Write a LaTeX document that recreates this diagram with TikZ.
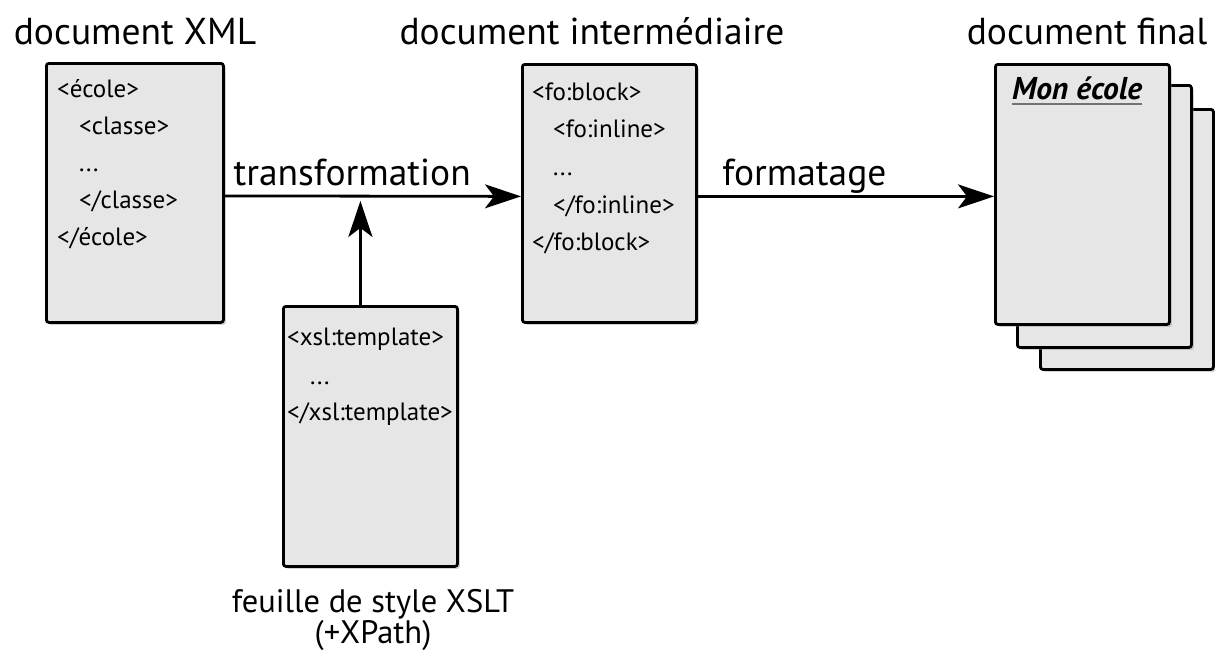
\documentclass[tikz,border=0pt]{standalone}
\usepackage{fontspec}
\setmainfont{PT Sans}
\usetikzlibrary{arrows.meta,shadows}
\begin{document}
\begin{tikzpicture}[x=1pt,y=-1pt,
  doc/.style={draw=black, line width=2.8pt, fill=docfill, rounded corners=2.5pt,
    anchor=north west, inner sep=0pt,
    drop shadow={shadow xshift=2.5pt, shadow yshift=-2.5pt, opacity=0.35}},
  code/.style={anchor=base west, inner sep=0pt, font=\fontsize{25}{25}\selectfont},
  title/.style={anchor=base, inner sep=0pt, font=\fontsize{37.5}{37.5}\selectfont},
  caption/.style={anchor=base, inner sep=0pt, font=\fontsize{32.5}{32.5}\selectfont},
  arr/.style={line width=2.8pt, -{Stealth[length=36pt,width=24pt,inset=9pt]}}]
\definecolor{docfill}{HTML}{E6E6E6}
\useasboundingbox (0,0) rectangle (1215,654);

% source XML document
\node[doc, minimum width=177pt, minimum height=259pt] (xml) at (45,62) {};
\node[code] (x1) at (57,97) {<école>};
\node[code] (x2) at (79,134) {<classe>};
\node[code] (x3) at (79,171) {...};
\node[code] (x4) at (79,208) {</classe>};
\node[code] (x5) at (57,245) {</école>};
\node[title] (txml) at (135,44) {document XML};

% intermediate document
\node[doc, minimum width=174pt, minimum height=258pt] (inter) at (521,63) {};
\node[code] (i1) at (532,100) {<fo:block>};
\node[code] (i2) at (553,137) {<fo:inline>};
\node[code] (i3) at (553,175) {...};
\node[code] (i4) at (553,213) {</fo:inline>};
\node[code] (i5) at (532,250) {</fo:block>};
\node[title] (tinter) at (592,44) {document intermédiaire};

% XSLT stylesheet
\node[doc, minimum width=174pt, minimum height=260pt] (xslt) at (282,305) {};
\node[code] (s1) at (287,345) {<xsl:template>};
\node[code] (s2) at (310,384) {...};
\node[code] (s3) at (287,420) {</xsl:template>};
\node[caption] (txslt1) at (373,612) {feuille de style XSLT};
\node[caption] (txslt2) at (373,643) {(+XPath)};

% final document: three stacked pages
\node[doc, minimum width=173pt, minimum height=260pt] (page3) at (1039,108) {};
\node[doc, minimum width=174pt, minimum height=262pt] (page2) at (1016,84) {};
\node[doc, minimum width=174pt, minimum height=260pt] (page1) at (994,63) {};
\node[anchor=base west, inner sep=0pt, font=\fontsize{31.5}{31.5}\selectfont\bfseries\itshape]
  (mon) at (1012,99) {Mon école};
\draw[line width=2pt, black!55] ([yshift=-4.5pt]mon.base west) -- ([yshift=-4.5pt]mon.base east);
\node[title] (tfinal) at (1087,44) {document final};

% connectors
\draw[arr] ([yshift=-3pt]xml.east) -- ([yshift=-3pt]inter.west)
  node[title, pos=0.43, yshift=11pt] (ltrans) {transformation};
\draw[arr] ([xshift=-10pt]xslt.north) -- ([xshift=-10pt,yshift=-8pt]xslt.north |- xml.east);
\draw[arr] ([yshift=-3pt]inter.east) -- ([yshift=-3pt]inter.east -| page1.west)
  node[title, pos=0.36, yshift=11pt] (lform) {formatage};
\end{tikzpicture}
\end{document}
